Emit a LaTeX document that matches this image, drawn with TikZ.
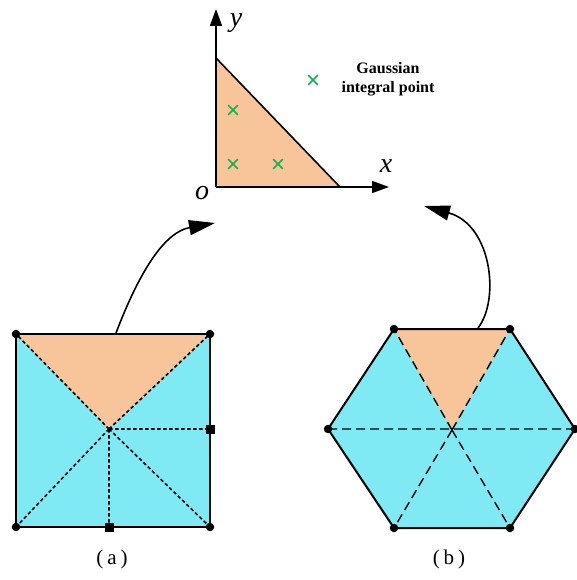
\documentclass[tikz,border=0pt]{standalone}
\usepackage{fontspec}
\setmainfont{Liberation Serif}
\usetikzlibrary{arrows.meta,shapes.misc}
\definecolor{peach}{RGB}{248,196,154}
\definecolor{cyanfill}{RGB}{127,233,244}
\definecolor{gpgreen}{RGB}{20,176,80}
\tikzset{
  outline/.style={draw=black,line width=2pt,line join=miter},
  dotline/.style={draw=black,line width=1.6pt,dash pattern=on 3.5pt off 2.5pt},
  dashline/.style={draw=black,line width=1.4pt,dash pattern=on 9pt off 5pt},
  vdot/.style={circle,fill=black,inner sep=0pt,minimum size=8.5pt},
  vsq/.style={rectangle,fill=black,inner sep=0pt,minimum size=9pt},
  gp/.style={cross out,draw=gpgreen,line width=1.6pt,inner sep=0pt,minimum size=8pt},
  axis/.style={line width=1.6pt,-{Triangle[length=17pt,width=12pt]}},
  bigarrow/.style={line width=1.6pt,-{Triangle[length=26pt,width=15pt]}},
  axlabel/.style={font=\fontsize{28}{30}\selectfont\itshape,anchor=base,inner sep=0pt},
  caption/.style={font=\fontsize{21}{24}\selectfont,anchor=base,inner sep=0pt}
}
\begin{document}
\begin{tikzpicture}[x=1pt,y=-1pt]
\useasboundingbox (0,0) rectangle (576,580);
% ---------- top: reference triangle ----------
\coordinate (O) at (216,187);
\coordinate (Ytop) at (216,58);
\coordinate (Xr) at (340,187);
\coordinate (Yend) at (216,9);
\coordinate (Xend) at (389,187);
\fill[peach] (O) -- (Ytop) -- (Xr) -- cycle;
\draw[line width=1.6pt] (Ytop) -- (Xr);
\draw[axis] (O) -- (Yend);
\draw[axis] (O) -- (Xend);
\node[axlabel] (ylab) at (236,27) {y};
\node[axlabel] (xlab) at (386,172) {x};
\node[axlabel] (olab) at (202,199) {o};
\node[gp] (g1) at (233,110) {};
\node[gp] (g2) at (233,164) {};
\node[gp] (g3) at (278,164) {};
\node[gp] (g4) at (313,80) {};
\node[font=\fontsize{16}{19}\selectfont\bfseries,anchor=base,inner sep=0pt] (leg1) at (388,74) {Gaussian};
\node[font=\fontsize{16}{19}\selectfont\bfseries,anchor=base,inner sep=0pt] (leg2) at (388,93) {integral point};
% ---------- (a) square ----------
\coordinate (A1) at (16,334);
\coordinate (A2) at (210,334);
\coordinate (A3) at (210,527);
\coordinate (A4) at (16,527);
\coordinate (AC) at (109,429);
\coordinate (AR) at (210,429);
\coordinate (AB) at (109,527);
\fill[cyanfill] (A1) -- (A2) -- (A3) -- (A4) -- cycle;
\fill[peach] (A1) -- (A2) -- (AC) -- cycle;
\draw[dotline] (AC) -- (A1) (AC) -- (A2) (AC) -- (A3) (AC) -- (A4) (AC) -- (AR) (AC) -- (AB);
\draw[outline] (A1) -- (A2) -- (A3) -- (A4) -- cycle;
\foreach \p in {A1,A2,A3,A4} \node[vdot] at (\p) {};
\node[vsq] (sqR) at (AR) {};
\node[vsq] (sqB) at (AB) {};
% ---------- (b) hexagon ----------
\coordinate (H1) at (394,329);
\coordinate (H2) at (510,329);
\coordinate (H3) at (575,429);
\coordinate (H4) at (510,528);
\coordinate (H5) at (394,528);
\coordinate (H6) at (328,429);
\coordinate (HC) at (452,430);
\fill[cyanfill] (H1) -- (H2) -- (H3) -- (H4) -- (H5) -- (H6) -- cycle;
\fill[peach] (H1) -- (H2) -- (HC) -- cycle;
\draw[dashline] (H6) -- (H3) (HC) -- (H4) (HC) -- (H5) (HC) -- (H1) (HC) -- (H2);
\draw[outline] (H1) -- (H2) -- (H3) -- (H4) -- (H5) -- (H6) -- cycle;
\foreach \p in {H1,H2,H3,H4,H5,H6} \node[vdot] at (\p) {};
% ---------- arrows ----------
\coordinate (aStart) at (116,333);
\coordinate (aEnd) at (215,223);
\draw[bigarrow] (aStart) .. controls (140,270) and (165,232) .. (aEnd);
\coordinate (bStart) at (478,328);
\coordinate (bEnd) at (424,206);
\draw[bigarrow] (bStart) .. controls (500,300) and (492,225) .. (bEnd);
% ---------- captions ----------
\node[caption] (capA) at (112,564) {(\hspace{4pt}a\hspace{4pt})};
\node[caption] (capB) at (449,564) {(\hspace{4pt}b\hspace{4pt})};
\end{tikzpicture}
\end{document}
